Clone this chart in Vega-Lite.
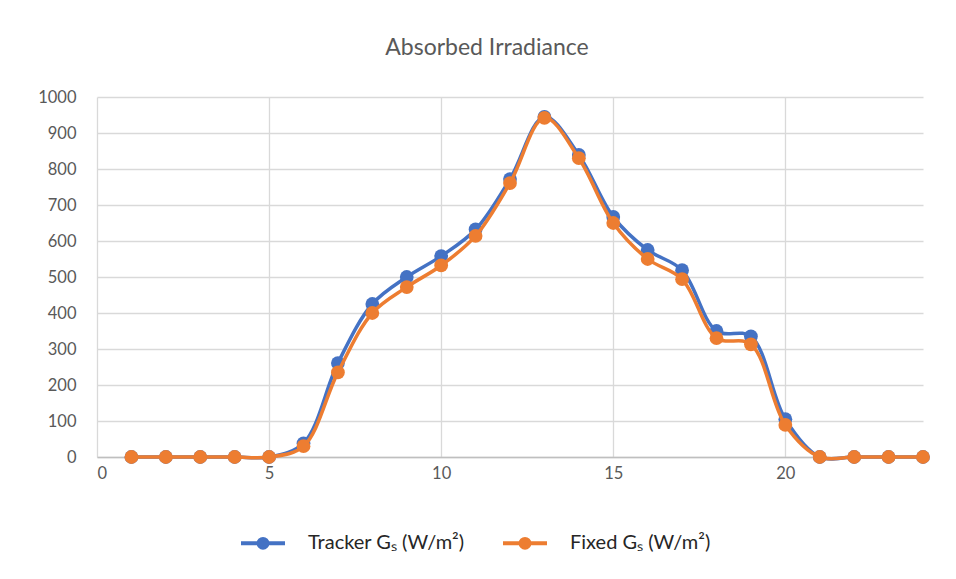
{
  "$schema": "https://vega.github.io/schema/vega-lite/v6.json",
  "width": 826,
  "height": 360,
  "autosize": {"type": "none"},
  "padding": {"left": 97, "top": 97, "right": 33, "bottom": 122},
  "background": "white",
  "title": {
    "text": "Absorbed Irradiance",
    "font": "Lato",
    "fontSize": 23,
    "fontWeight": "normal",
    "color": "#595959",
    "offset": 29,
    "dx": -23
  },
  "config": {
    "view": {"stroke": null},
    "axis": {
      "labelFont": "Lato",
      "labelFontSize": 16.5,
      "labelColor": "#595959",
      "gridColor": "#d9d9d9",
      "gridWidth": 1.3,
      "ticks": false,
      "title": null
    },
    "legend": {
      "labelFont": "Lato",
      "labelFontSize": 20,
      "labelColor": "#262626"
    }
  },
  "data": {
    "values": [
      {"hour": 1, "series": "Tracker Gₛ (W/m²)", "value": 0},
      {"hour": 2, "series": "Tracker Gₛ (W/m²)", "value": 0},
      {"hour": 3, "series": "Tracker Gₛ (W/m²)", "value": 0},
      {"hour": 4, "series": "Tracker Gₛ (W/m²)", "value": 0},
      {"hour": 5, "series": "Tracker Gₛ (W/m²)", "value": 0},
      {"hour": 6, "series": "Tracker Gₛ (W/m²)", "value": 38},
      {"hour": 7, "series": "Tracker Gₛ (W/m²)", "value": 261},
      {"hour": 8, "series": "Tracker Gₛ (W/m²)", "value": 425},
      {"hour": 9, "series": "Tracker Gₛ (W/m²)", "value": 500},
      {"hour": 10, "series": "Tracker Gₛ (W/m²)", "value": 558},
      {"hour": 11, "series": "Tracker Gₛ (W/m²)", "value": 632},
      {"hour": 12, "series": "Tracker Gₛ (W/m²)", "value": 772},
      {"hour": 13, "series": "Tracker Gₛ (W/m²)", "value": 945},
      {"hour": 14, "series": "Tracker Gₛ (W/m²)", "value": 839},
      {"hour": 15, "series": "Tracker Gₛ (W/m²)", "value": 667},
      {"hour": 16, "series": "Tracker Gₛ (W/m²)", "value": 575},
      {"hour": 17, "series": "Tracker Gₛ (W/m²)", "value": 519},
      {"hour": 18, "series": "Tracker Gₛ (W/m²)", "value": 350},
      {"hour": 19, "series": "Tracker Gₛ (W/m²)", "value": 335},
      {"hour": 20, "series": "Tracker Gₛ (W/m²)", "value": 105},
      {"hour": 21, "series": "Tracker Gₛ (W/m²)", "value": 0},
      {"hour": 22, "series": "Tracker Gₛ (W/m²)", "value": 0},
      {"hour": 23, "series": "Tracker Gₛ (W/m²)", "value": 0},
      {"hour": 24, "series": "Tracker Gₛ (W/m²)", "value": 0},
      {"hour": 1, "series": "Fixed Gₛ (W/m²)", "value": 0},
      {"hour": 2, "series": "Fixed Gₛ (W/m²)", "value": 0},
      {"hour": 3, "series": "Fixed Gₛ (W/m²)", "value": 0},
      {"hour": 4, "series": "Fixed Gₛ (W/m²)", "value": 0},
      {"hour": 5, "series": "Fixed Gₛ (W/m²)", "value": 0},
      {"hour": 6, "series": "Fixed Gₛ (W/m²)", "value": 30},
      {"hour": 7, "series": "Fixed Gₛ (W/m²)", "value": 235},
      {"hour": 8, "series": "Fixed Gₛ (W/m²)", "value": 400},
      {"hour": 9, "series": "Fixed Gₛ (W/m²)", "value": 472},
      {"hour": 10, "series": "Fixed Gₛ (W/m²)", "value": 532},
      {"hour": 11, "series": "Fixed Gₛ (W/m²)", "value": 614},
      {"hour": 12, "series": "Fixed Gₛ (W/m²)", "value": 761},
      {"hour": 13, "series": "Fixed Gₛ (W/m²)", "value": 942},
      {"hour": 14, "series": "Fixed Gₛ (W/m²)", "value": 830},
      {"hour": 15, "series": "Fixed Gₛ (W/m²)", "value": 650},
      {"hour": 16, "series": "Fixed Gₛ (W/m²)", "value": 550},
      {"hour": 17, "series": "Fixed Gₛ (W/m²)", "value": 494},
      {"hour": 18, "series": "Fixed Gₛ (W/m²)", "value": 330},
      {"hour": 19, "series": "Fixed Gₛ (W/m²)", "value": 313},
      {"hour": 20, "series": "Fixed Gₛ (W/m²)", "value": 89},
      {"hour": 21, "series": "Fixed Gₛ (W/m²)", "value": 0},
      {"hour": 22, "series": "Fixed Gₛ (W/m²)", "value": 0},
      {"hour": 23, "series": "Fixed Gₛ (W/m²)", "value": 0},
      {"hour": 24, "series": "Fixed Gₛ (W/m²)", "value": 0}
    ]
  },
  "encoding": {
    "x": {
      "field": "hour",
      "type": "quantitative",
      "scale": {"domain": [0, 24], "nice": false},
      "axis": {
        "values": [0, 5, 10, 15, 20],
        "labelPadding": 8,
        "domainColor": "#bfbfbf",
        "domainWidth": 1.5
      }
    },
    "y": {
      "field": "value",
      "type": "quantitative",
      "scale": {"domain": [0, 1000], "nice": false},
      "axis": {
        "values": [0, 100, 200, 300, 400, 500, 600, 700, 800, 900, 1000],
        "format": "d",
        "domain": false,
        "labelPadding": 21
      }
    },
    "color": {
      "field": "series",
      "type": "nominal",
      "sort": null,
      "scale": {
        "domain": ["Tracker Gₛ (W/m²)", "Fixed Gₛ (W/m²)"],
        "range": ["#4472C4", "#ED7D31"]
      },
      "legend": {
        "title": null,
        "orient": "none",
        "direction": "horizontal",
        "legendX": 142,
        "legendY": 422,
        "symbolType": "M-1,0H1M-0.2,0A0.2,0.2 0 1,1 0.2,0A0.2,0.2 0 1,1 -0.2,0Z",
        "symbolSize": 1936,
        "symbolStrokeWidth": 4,
        "columnPadding": 30,
        "labelOffset": 21
      }
    }
  },
  "layer": [
    {
      "transform": [{"filter": "datum.series === 'Tracker Gₛ (W/m²)'"}],
      "mark": {"type": "line", "interpolate": "catmull-rom", "strokeWidth": 3.5}
    },
    {
      "transform": [{"filter": "datum.series === 'Tracker Gₛ (W/m²)'"}],
      "mark": {"type": "circle", "size": 190, "opacity": 1}
    },
    {
      "transform": [{"filter": "datum.series === 'Fixed Gₛ (W/m²)'"}],
      "mark": {"type": "line", "interpolate": "catmull-rom", "strokeWidth": 3.5}
    },
    {
      "transform": [{"filter": "datum.series === 'Fixed Gₛ (W/m²)'"}],
      "mark": {"type": "circle", "size": 190, "opacity": 1}
    }
  ]
}
